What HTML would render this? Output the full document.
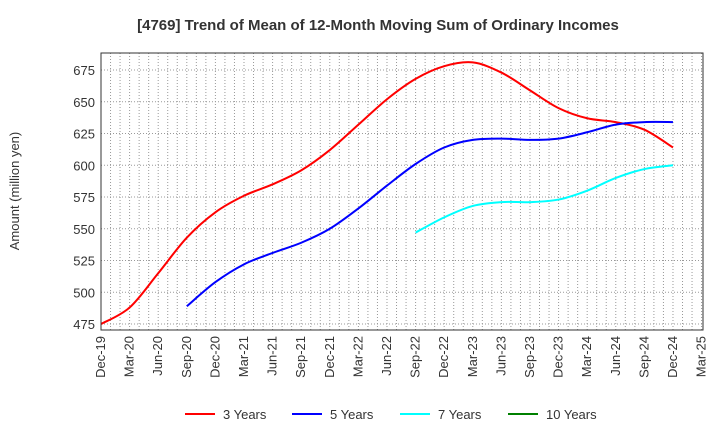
<!DOCTYPE html>
<html><head><meta charset="utf-8"><style>
body{margin:0;background:#fff;font-family:"Liberation Sans",sans-serif}
</style></head><body>
<svg id="c" width="720" height="440" xmlns="http://www.w3.org/2000/svg" font-family="Liberation Sans, sans-serif">
<text x="378" y="30" text-anchor="middle" font-size="15" font-weight="bold" fill="#333">[4769]  Trend of Mean of 12-Month Moving Sum of Ordinary Incomes</text>
<text transform="translate(19,191) rotate(-90)" text-anchor="middle" font-size="13" fill="#333">Amount (million yen)</text>
<g id="grid"></g><g id="series"></g><g id="axes"></g><g id="legend"></g>
</svg>
<script>
const xLabels=["Dec-19","Mar-20","Jun-20","Sep-20","Dec-20","Mar-21","Jun-21","Sep-21","Dec-21","Mar-22","Jun-22","Sep-22","Dec-22","Mar-23","Jun-23","Sep-23","Dec-23","Mar-24","Jun-24","Sep-24","Dec-24","Mar-25"];
const yTicks=[475,500,525,550,575,600,625,650,675];
const seriesNames=["3 Years","5 Years","7 Years","10 Years"];
const seriesColors=["#ff0000","#0000ff","#00ffff","#008000"];
const start3=0, start5=3, start7=11;
const values3=[475,488,515,543,563,576,585,596,612,632,652,668,678,681,673,659,645,637,634,628,614];
const values5=[489,508,522,531,539,550,566,584,601,614,620,621,620,621,626,632,634,634];
const values7=[547,559,568,571,571,573,580,590,597,600];
const values10=[];
const NS="http://www.w3.org/2000/svg";
const L=101,R=703,T=53,B=330,yMin=470.3,yMax=688.4,mMax=63.15;
const xs=m=>L+(m/mMax)*(R-L);
const ys=v=>B-(v-yMin)/(yMax-yMin)*(B-T);
function mk(t,a,p){const e=document.createElementNS(NS,t);for(const k in a)e.setAttribute(k,a[k]);p.appendChild(e);return e;}
const grid=document.getElementById('grid'),axes=document.getElementById('axes'),ser=document.getElementById('series'),leg=document.getElementById('legend');
for(let m=1;m<=63;m++){const l=mk('line',{x1:xs(m),x2:xs(m),y1:T,y2:B,stroke:'#999','stroke-dasharray':'1,2','stroke-width':1},grid);
}
yTicks.forEach(v=>{const l=mk('line',{x1:L,x2:R,y1:ys(v),y2:ys(v),stroke:'#999','stroke-dasharray':'1,2'},grid);

const t=mk('text',{x:L-6,y:ys(v)+5,'text-anchor':'end','font-size':13,fill:'#333'},axes);t.textContent=v;
});
const fr=mk('rect',{x:L,y:T,width:R-L,height:B-T,fill:'none',stroke:'#333'},axes);

xLabels.forEach((s,i)=>{const x=xs(i*3);const t=mk('text',{transform:`translate(${x+4},${B+6}) rotate(-90)`,'text-anchor':'end','font-size':13,fill:'#333'},axes);t.textContent=s;
});
function path(pts){if(pts.length<2)return '';let d=`M${pts[0][0]},${pts[0][1]}`;for(let i=0;i<pts.length-1;i++){const p0=pts[i-1]||pts[i],p1=pts[i],p2=pts[i+1],p3=pts[i+2]||p2;
d+=` C${p1[0]+(p2[0]-p0[0])/6},${p1[1]+(p2[1]-p0[1])/6} ${p2[0]-(p3[0]-p1[0])/6},${p2[1]-(p3[1]-p1[1])/6} ${p2[0]},${p2[1]}`;}return d;}
[[values3,start3],[values5,start5],[values7,start7],[values10,0]].forEach(([vals,st],k)=>{
const pts=vals.map((v,i)=>[xs((st+i)*3),ys(v)]);if(pts.length<2)return;
const p=mk('path',{d:path(pts),fill:'none',stroke:seriesColors[k],'stroke-width':2},ser);
});
const lx=[185,292,400,508];
seriesNames.forEach((n,k)=>{const g=mk('g',{},leg);
mk('line',{x1:lx[k],x2:lx[k]+30,y1:414,y2:414,stroke:seriesColors[k],'stroke-width':2},g);
const t=mk('text',{x:lx[k]+38,y:419,'font-size':13,fill:'#333'},g);t.textContent=n;});
</script>
</body></html>
